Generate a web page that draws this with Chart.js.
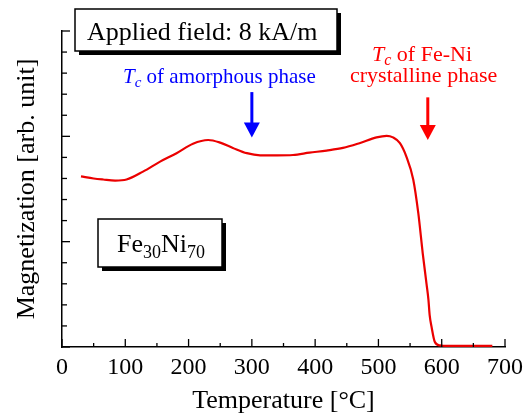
<!DOCTYPE html>
<html>
<head>
<meta charset="utf-8">
<script src="https://cdn.jsdelivr.net/npm/chart.js@4"></script>
<style>
  html, body { margin: 0; padding: 0; background: #fff; }
  #wrap { width: 524px; height: 415px; }
</style>
</head>
<body>
<div id="wrap"><canvas id="magChart" width="524" height="415"></canvas></div>
<script>
// temperature [°C] and magnetization [arb. unit]
const temps = [30, 50, 65, 84, 102, 128, 155, 181, 207, 231, 250, 270, 292, 313, 340, 365, 391, 418, 444, 470, 497, 513, 523, 534, 544, 555, 563, 570, 576, 579, 581, 584, 589, 597, 610, 650, 680];
const magnetization = [1.62, 1.60, 1.59, 1.58, 1.59, 1.665, 1.76, 1.84, 1.93, 1.965, 1.94, 1.89, 1.84, 1.82, 1.82, 1.823, 1.845, 1.865, 1.89, 1.935, 1.99, 2.005, 1.99, 1.935, 1.81, 1.59, 1.27, 0.89, 0.6, 0.45, 0.30, 0.19, 0.05, 0.015, 0.01, 0.01, 0.01];
const xTickLabels = [0, 100, 200, 300, 400, 500, 600, 700];

const SERIF = '"Liberation Serif", "Times New Roman", serif';

// draws inward tick marks, the arrows and the text boxes
const annotate = {
  id: "annotate",
  afterDraw(chart) {
    const { ctx, scales: { x, y }, chartArea } = chart;
    ctx.save();
    ctx.strokeStyle = "#000";
    ctx.lineWidth = 1.3;

    // x ticks (inside)
    x.ticks.forEach((t) => {
      const px = x.getPixelForValue(t.value);
      const len = t.value % 100 === 0 ? 8 : 4;
      ctx.beginPath();
      ctx.moveTo(px, chartArea.bottom);
      ctx.lineTo(px, chartArea.bottom - len);
      ctx.stroke();
    });
    // y ticks (inside)
    y.ticks.forEach((t) => {
      const py = y.getPixelForValue(t.value);
      const major = Math.abs(t.value - Math.round(t.value)) < 1e-6;
      ctx.beginPath();
      ctx.moveTo(chartArea.left, py);
      ctx.lineTo(chartArea.left + (major ? 8 : 5), py);
      ctx.stroke();
    });

    const box = (bx, by, bw, bh) => {
      ctx.fillStyle = "#000";
      ctx.fillRect(bx + 4, by + 4, bw, bh);
      ctx.fillStyle = "#fff";
      ctx.fillRect(bx, by, bw, bh);
      ctx.lineWidth = 1.5;
      ctx.strokeStyle = "#000";
      ctx.strokeRect(bx, by, bw, bh);
    };

    const arrow = (temp, yFrom, yTo, color) => {
      const px = x.getPixelForValue(temp);
      const p0 = y.getPixelForValue(yFrom);
      const p1 = y.getPixelForValue(yTo);
      ctx.strokeStyle = color;
      ctx.fillStyle = color;
      ctx.lineWidth = 3;
      ctx.beginPath();
      ctx.moveTo(px, p0);
      ctx.lineTo(px, p1 - 12);
      ctx.stroke();
      ctx.beginPath();
      ctx.moveTo(px - 8, p1 - 15);
      ctx.lineTo(px + 8, p1 - 15);
      ctx.lineTo(px, p1);
      ctx.closePath();
      ctx.fill();
    };

    // Tc label: italic T, italic subscript c, then the rest
    const tcLabel = (tx, ty, size, rest, color) => {
      ctx.fillStyle = color;
      ctx.textBaseline = "alphabetic";
      ctx.textAlign = "left";
      ctx.font = "italic " + size + "px " + SERIF;
      ctx.fillText("T", tx, ty);
      let cx = tx + ctx.measureText("T").width;
      ctx.font = "italic " + Math.round(size * 0.72) + "px " + SERIF;
      ctx.fillText("c", cx, ty + 4);
      cx += ctx.measureText("c").width;
      ctx.font = size + "px " + SERIF;
      ctx.fillText(rest, cx, ty);
    };

    // applied field box
    box(75, 9, 262, 42);
    ctx.fillStyle = "#000";
    ctx.font = "26px " + SERIF;
    ctx.textBaseline = "alphabetic";
    ctx.textAlign = "left";
    ctx.fillText("Applied field: 8 kA/m", 87, 40);

    // composition box
    box(98, 219, 124, 48);
    ctx.fillStyle = "#000";
    let fx = 117;
    [["Fe", 26, 0], ["30", 18, 6], ["Ni", 26, 0], ["70", 18, 6]].forEach(([s, sz, dy]) => {
      ctx.font = sz + "px " + SERIF;
      ctx.fillText(s, fx, 252 + dy);
      fx += ctx.measureText(s).width;
    });

    // annotations
    tcLabel(123, 83, 21, " of amorphous phase", "rgb(0,0,255)");
    tcLabel(372, 61, 22, " of Fe-Ni", "rgb(255,0,0)");
    ctx.font = "22px " + SERIF;
    ctx.fillStyle = "rgb(255,0,0)";
    ctx.fillText("crystalline phase", 350, 82);

    arrow(300, 2.42, 1.99, "rgb(0,0,255)");
    arrow(578, 2.37, 1.965, "rgb(255,0,0)");

    ctx.restore();
  },
};

new Chart(document.getElementById("magChart"), {
  type: "line",
  data: {
    datasets: [
      {
        data: temps.map((t, i) => ({ x: t, y: magnetization[i] })),
        borderColor: "rgb(235,0,0)",
        borderWidth: 2.2,
        pointRadius: 0,
        fill: false,
        cubicInterpolationMode: "monotone",
      },
    ],
  },
  options: {
    responsive: false,
    animation: false,
    layout: { padding: { top: 31, right: 19, left: 0, bottom: 0 } },
    plugins: { legend: { display: false }, tooltip: { enabled: false } },
    scales: {
      x: {
        type: "linear",
        min: 0,
        max: 700,
        grid: { display: false, drawTicks: false },
        border: { display: true, color: "#000", width: 1.5 },
        ticks: {
          stepSize: 50,
          autoSkip: false,
          maxRotation: 0,
          padding: 6,
          color: "#000",
          font: { family: SERIF, size: 24 },
          callback: (v) => (xTickLabels.includes(v) ? String(v) : ""),
        },
        title: {
          display: true,
          text: "Temperature [°C]",
          color: "#000",
          font: { family: SERIF, size: 26, lineHeight: 1.1 },
          padding: { top: 0, bottom: 0 },
        },
        afterFit(scale) {
          scale.height = 68;
          scale.paddingLeft = 0;
          scale.paddingRight = 0;
        },
      },
      y: {
        min: 0,
        max: 3,
        grid: { display: false, drawTicks: false },
        border: { display: true, color: "#000", width: 1.5 },
        ticks: { stepSize: 0.2, display: false },
        title: {
          display: true,
          text: "Magnetization [arb. unit]",
          color: "#000",
          font: { family: SERIF, size: 26, lineHeight: 1.1 },
          padding: { top: 13, bottom: 0 },
        },
        afterFit(scale) {
          scale.width = 62;
          scale.paddingTop = 0;
          scale.paddingBottom = 0;
        },
      },
    },
  },
  plugins: [annotate],
});
</script>
</body>
</html>
